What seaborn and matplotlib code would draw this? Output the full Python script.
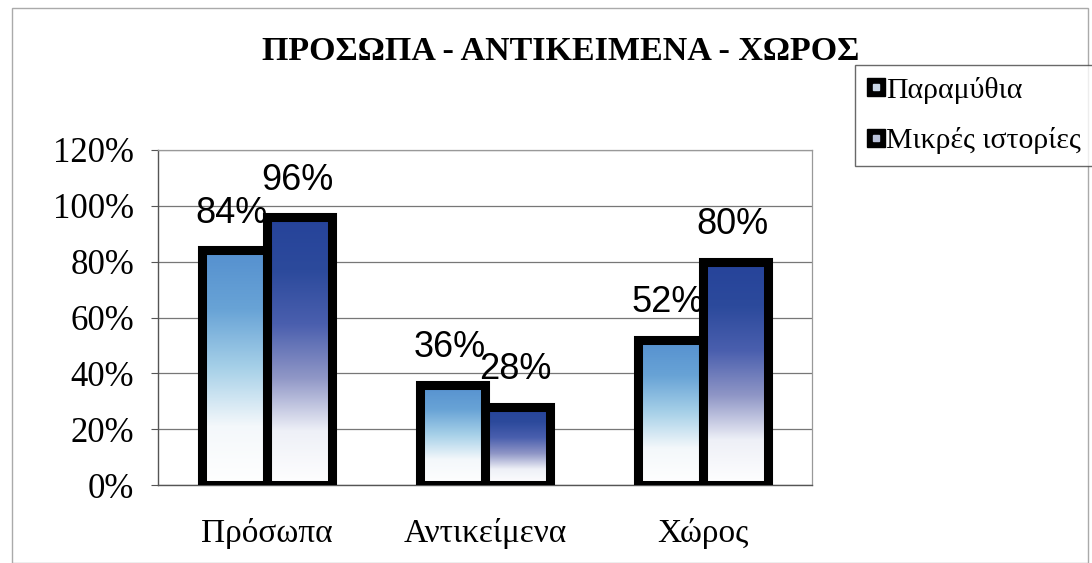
import numpy as np
import pandas as pd
import matplotlib
matplotlib.use("Agg")
import matplotlib.pyplot as plt
import seaborn as sns
from matplotlib.colors import LinearSegmentedColormap
from matplotlib.lines import Line2D
from matplotlib.legend_handler import HandlerTuple
from matplotlib.patches import Rectangle

title = "ΠΡΟΣΩΠΑ - ΑΝΤΙΚΕΙΜΕΝΑ - ΧΩΡΟΣ"
categories = ["Πρόσωπα", "Αντικείμενα", "Χώρος"]
series_names = ["Παραμύθια", "Μικρές ιστορίες"]
fairy_tales = [84, 36, 52]
short_stories = [96, 28, 80]
y_ticks = [0, 20, 40, 60, 80, 100, 120]
y_tick_labels = ["0%", "20%", "40%", "60%", "80%", "100%", "120%"]

df = pd.DataFrame({
    "category": categories * 2,
    "series": [series_names[0]] * 3 + [series_names[1]] * 3,
    "value": fairy_tales + short_stories,
})

sns.set_style("white")
plt.rcParams["font.family"] = ["Liberation Serif", "DejaVu Serif"]
plt.rcParams["text.color"] = "black"
plt.rcParams["xtick.color"] = "black"
plt.rcParams["ytick.color"] = "black"

fig = plt.figure(figsize=(10.92, 5.63), dpi=100)
ax = fig.add_axes([0.1447, 0.1385, 0.5989, 0.5951])

sns.barplot(data=df, x="category", y="value", hue="series", order=categories,
            hue_order=series_names, width=0.6, ax=ax, legend=False,
            edgecolor="black", linewidth=6.5, palette=["#5b95d0", "#2c4a9c"],
            zorder=3)

ax.set_ylim(0, 120)
ax.set_xlim(-0.5, 2.5)
ax.set_yticks(y_ticks)
ax.set_yticklabels(y_tick_labels, fontsize=25)
ax.set_xticks(range(len(categories)))
ax.set_xticklabels(categories, fontsize=24)
ax.set_xticks([-0.5, 0.5, 1.5, 2.5], minor=True)
ax.tick_params(axis="x", which="major", length=0, pad=24, labelcolor="black")
ax.tick_params(axis="x", which="minor", length=6, width=0.8, color="#777777", direction="out")
ax.tick_params(axis="y", length=5, width=0.8, color="#555555", pad=12, left=True,
               labelcolor="black")
ax.set_xlabel("")
ax.set_ylabel("")
ax.grid(axis="y", color="#777777", linewidth=0.9, zorder=0)
for s in ["top", "right"]:
    ax.spines[s].set_color("#999999")
    ax.spines[s].set_linewidth(0.9)
for s in ["left", "bottom"]:
    ax.spines[s].set_color("#555555")
    ax.spines[s].set_linewidth(1.0)

# gradient fills
cmaps = [
    LinearSegmentedColormap.from_list("g1", ["#ffffff", "#f4f8fb", "#a6d0e8", "#68a3d6", "#5590cf"]),
    LinearSegmentedColormap.from_list("g2", ["#ffffff", "#eef0f7", "#8f96c6", "#4a5fae", "#2c4a9c", "#26439a"]),
]
grad = np.linspace(0, 1, 256).reshape(-1, 1)
patches = list(ax.patches)
n = len(categories)
for i, p in enumerate(patches[:2 * n]):
    cm = cmaps[i // n]
    x0, y0 = p.get_x(), p.get_y()
    w, h = p.get_width(), p.get_height()
    im = ax.imshow(grad, cmap=cm, aspect="auto", origin="lower",
                   extent=[x0, x0 + w, y0, y0 + h], zorder=3.5)
    im.set_clip_path(p)
    ax.add_patch(Rectangle((x0, y0), w, h, fill=False, edgecolor="black",
                           linewidth=6.5, zorder=4, joinstyle="miter"))
    ax.annotate(f"{h:.0f}%", (x0 + w / 2, y0 + h), xytext=(-2, 14),
                textcoords="offset points", ha="center", va="bottom",
                fontsize=26, family=["Liberation Sans", "DejaVu Sans"],
                color="black", zorder=6)

ax.set_xlim(-0.5, 2.5)
ax.set_ylim(0, 120)

fig.text(0.513, 0.908, title, ha="center", va="center", fontsize=24.5,
         fontweight="bold", color="black")

h1 = (Line2D([], [], marker="s", color="black", markersize=13, linestyle="none"),
      Line2D([], [], marker="s", color="#c9d6e6", markersize=5, linestyle="none"))
h2 = (Line2D([], [], marker="s", color="black", markersize=13, linestyle="none"),
      Line2D([], [], marker="s", color="#b8c0d8", markersize=4, linestyle="none"))
leg = fig.legend([h1, h2], series_names, handler_map={tuple: HandlerTuple(ndivide=1)},
                 loc="upper left", bbox_to_anchor=(0.783, 0.885), fontsize=21.5,
                 frameon=True, fancybox=False, edgecolor="#444444",
                 handlelength=0.6, handletextpad=0.05, borderpad=0.4,
                 labelspacing=0.78, borderaxespad=0)
leg.get_frame().set_linewidth(1.0)
for t in leg.get_texts():
    t.set_color("black")

fig.patches.append(Rectangle((0.011, 0.0), 0.985, 0.985, transform=fig.transFigure,
                             fill=False, edgecolor="#aaaaaa", linewidth=1.0))

fig.savefig("out.png", dpi=100, facecolor="white")
